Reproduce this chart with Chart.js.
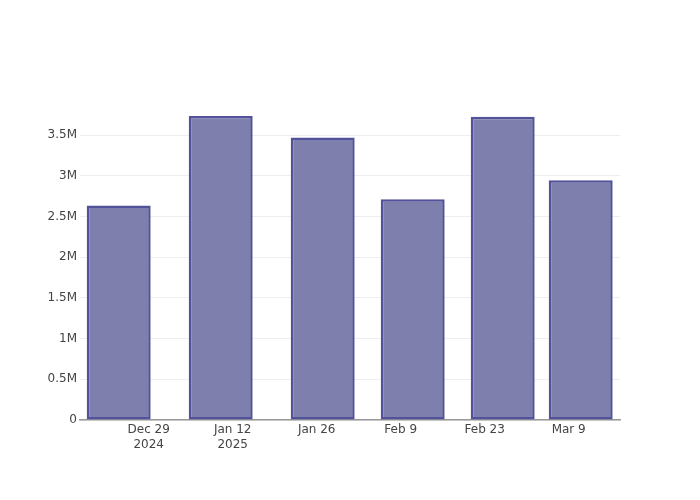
<!DOCTYPE html>
<html>
<head>
<meta charset="utf-8">
<script src="https://cdn.jsdelivr.net/npm/chart.js@4"></script>
<style>
  html, body { margin: 0; padding: 0; background: #fff; }
  #wrap { width: 700px; height: 500px; }
</style>
</head>
<body>
<div id="wrap"><canvas id="chart" width="700" height="500"></canvas></div>
<script>
// bar dates and values (millions)
const barDates = ['2024-12-24', '2025-01-10', '2025-01-27', '2025-02-11', '2025-02-26', '2025-03-11'];
const barValues = [2.635, 3.735, 3.47, 2.71, 3.725, 2.945];

// x tick dates and their labels
const tickDates = ['2024-12-29', '2025-01-12', '2025-01-26', '2025-02-09', '2025-02-23', '2025-03-09'];
const tickLabels = [['Dec 29', '2024'], ['Jan 12', '2025'], 'Jan 26', 'Feb 9', 'Feb 23', 'Mar 9'];

const yTicks = [0, 0.5, 1, 1.5, 2, 2.5, 3, 3.5];

const dayNum = (s) => {
    const p = s.split('-').map(Number);
    return Date.UTC(p[0], p[1] - 1, p[2]) / 86400000;
};

const tickDays = tickDates.map(dayNum);

const fmtY = (v) => v === 0 ? '0' : (Math.round(v * 10) / 10) + 'M';

Chart.defaults.font.family = '"DejaVu Sans", verdana, arial, sans-serif';
Chart.defaults.font.size = 12;
Chart.defaults.color = '#444';

new Chart(document.getElementById('chart'), {
    type: 'bar',
    data: {
        datasets: [{
            data: barDates.map((d, i) => ({ x: dayNum(d), y: barValues[i] })),
            backgroundColor: '#7f7fae',
            borderColor: '#52529a',
            borderWidth: 2.5,
            borderSkipped: false,
            categoryPercentage: 1,
            barPercentage: 0.82
        }]
    },
    options: {
        responsive: false,
        animation: false,
        layout: { padding: { top: 100, right: 80, left: 0, bottom: 0 } },
        plugins: {
            legend: { display: false },
            tooltip: { enabled: false }
        },
        scales: {
            x: {
                type: 'linear',
                offset: false,
                min: tickDays[0] - 11.45,
                max: tickDays[tickDays.length - 1] + 8.55,
                afterFit: (scale) => { scale.height = 80; },
                afterBuildTicks: (scale) => { scale.ticks = tickDays.map(v => ({ value: v })); },
                grid: { display: false, drawTicks: false, offset: false },
                border: { display: true, color: '#999', width: 1.5 },
                ticks: {
                    padding: 3,
                    maxRotation: 0,
                    autoSkip: false,
                    callback: (v) => {
                        const i = tickDays.indexOf(v);
                        return i >= 0 ? tickLabels[i] : '';
                    }
                }
            },
            y: {
                min: 0,
                max: 3.93,
                afterFit: (scale) => { scale.width = 80; },
                afterBuildTicks: (scale) => { scale.ticks = yTicks.map(v => ({ value: v })); },
                grid: { color: '#eeeeee', drawTicks: false },
                border: { display: false },
                ticks: {
                    padding: 3,
                    callback: (v) => fmtY(v)
                }
            }
        }
    }
});
</script>
</body>
</html>
